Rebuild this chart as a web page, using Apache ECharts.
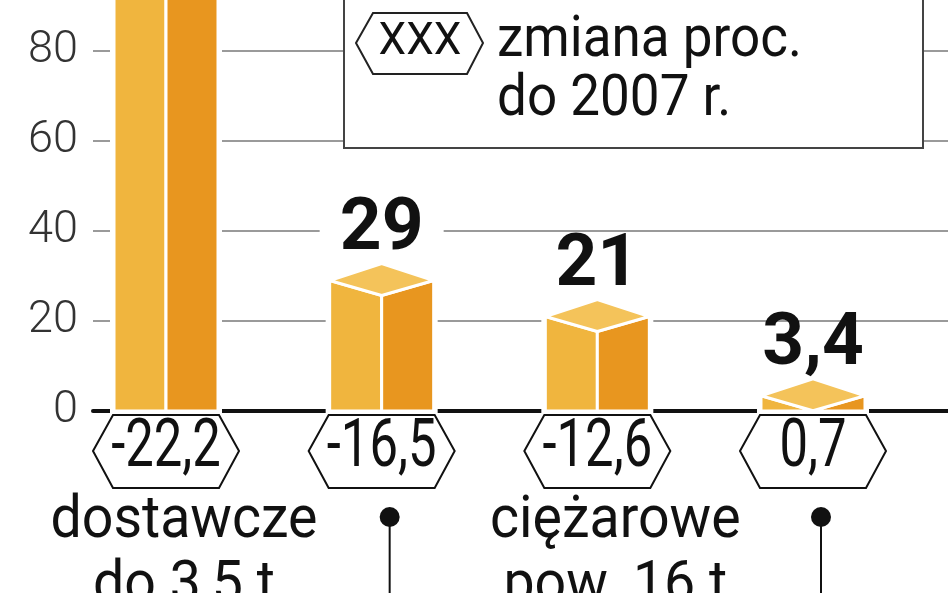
<!DOCTYPE html>
<html><head><meta charset="utf-8">
<script src="https://cdn.jsdelivr.net/npm/echarts@6/dist/echarts.min.js"></script>
<style>html,body{margin:0;padding:0;background:#fff}#c{width:948px;height:593px}</style>
</head><body><div id="c"></div>
<script>
// categories (labels of 2nd and 4th bar are below the visible crop; only their pins show)
const categories = ['dostawcze\ndo 3,5 t', null, 'ciężarowe\npow. 16 t', null];
// values (first bar is cut off at the top; its value is not visible)
const values = [120, 29, 21, 3.4];
// percentage change to 2007
const changes = [-22.2, -16.5, -12.6, 0.7];
const showValue = [false, true, true, true];
const yMin = 0, yMax = 100, yInterval = 20;
const legendText = 'zmiana proc.\ndo 2007 r.';
const legendSample = 'XXX';

const LEFT = '#F0B53E', RIGHT = '#E8961F', TOP = '#F4C35A';
const fmt = v => String(v).replace('.', ',');
const FONT = 'Roboto';

function renderBox(params, api) {
  const i = api.value(0), v = api.value(1);
  const b = api.coord([i, 0]), t = api.coord([i, v]);
  const c = b[0], y0 = b[1], y1 = t[1];
  const w = 52, d = 15, u = 17;
  const yf = Math.min(y1 + d, y0);
  const children = [
    {type:'polygon', shape:{points:[[c-w,y0],[c-w,y1],[c,y1-u],[c+w,y1],[c+w,y0]]}, style:{fill:'#fff', stroke:'#fff', lineWidth:8}},
    {type:'polygon', shape:{points:[[c-w,y0],[c-w,y1],[c,yf],[c,y0]]}, style:{fill:LEFT, stroke:'#fff', lineWidth:3}},
    {type:'polygon', shape:{points:[[c,y0],[c,yf],[c+w,y1],[c+w,y0]]}, style:{fill:RIGHT, stroke:'#fff', lineWidth:3}},
    {type:'polygon', shape:{points:[[c-w,y1],[c,y1-u],[c+w,y1],[c,y1+d]]}, style:{fill:TOP, stroke:'#fff', lineWidth:3}}
  ];
  if (showValue[i]) {
    const ty = y1 - u - 8 - 25;
    if (i === 1) children.push({type:'rect', shape:{x:c-62, y:ty-30, width:124, height:58}, style:{fill:'#fff'}});
    children.push({type:'text', x:c, y:ty, style:{text:fmt(v), fontSize:73, fontWeight:'bold', fontFamily:FONT, fill:'#111', align:'center', verticalAlign:'middle'}});
  }
  return {type:'group', children};
}

function renderHex(params, api) {
  const i = api.value(0), ch = api.value(1);
  const b = api.coord([i, 0]);
  const c = b[0], y0 = b[1];
  const w = 53;
  const children = [
    {type:'polygon', shape:{points:[[c-w,y0+4],[c+w,y0+4],[c+w+20,y0+40],[c+w,y0+77],[c-w,y0+77],[c-w-20,y0+40]]}, style:{fill:'#fff', stroke:'#111', lineWidth:2}},
    {type:'text', x:c, y:y0+38, scaleX:0.77, style:{text:fmt(ch), fontSize:66, fontWeight:400, fontFamily:FONT, fill:'#111', align:'center', verticalAlign:'middle'}}
  ];
  const name = categories[i];
  if (name) {
    children.push({type:'text', x:c+18, y:y0+144, scaleX:0.94, style:{text:name, fontSize:59, fontFamily:FONT, lineHeight:65, fill:'#111', align:'center', verticalAlign:'middle'}});
  } else {
    const px = c + 8;
    children.push({type:'line', shape:{x1:px, y1:y0+106, x2:px, y2:y0+200}, style:{stroke:'#111', lineWidth:2}});
    children.push({type:'circle', shape:{cx:px, cy:y0+106, r:10}, style:{fill:'#111'}});
  }
  return {type:'group', children};
}

const boxData = values.map((v, i) => [i, v]);
const hexData = changes.map((v, i) => [i, v]);

const chart = echarts.init(document.getElementById('c'), null, {renderer:'canvas'});
chart.setOption({
  animation:false,
  backgroundColor:'#fff',
  grid:{left:93, right:0, top:411 - 4.5*yMax, bottom:182, containLabel:false, outerBoundsMode:'none'},
  xAxis:{type:'value', min:-0.3385, max:3.626, axisLabel:{show:false}, axisTick:{show:false}, splitLine:{show:false},
    axisLine:{show:true, onZero:false, lineStyle:{color:'#111', width:4}}},
  yAxis:{type:'value', min:yMin, max:yMax, interval:yInterval,
    axisLine:{show:true, lineStyle:{color:'#666', width:2}}, axisTick:{show:false},
    axisLabel:{margin:15, color:'#333', fontFamily:FONT, fontWeight:300, fontSize:45},
    splitLine:{show:true, lineStyle:{color:'#9a9a9a', width:2}}},
  series:[
    {type:'custom', data:boxData, renderItem:renderBox, clip:false, z:3},
    {type:'custom', data:hexData, renderItem:renderHex, clip:false, z:4}
  ],
  graphic:[
    {type:'rect', z:10, shape:{x:344, y:-5, width:579, height:153}, style:{fill:'#fff', stroke:'#444', lineWidth:2}},
    {type:'polygon', z:11, shape:{points:[[356,43],[373,13],[467,13],[483,43],[467,74],[373,74]]}, style:{fill:'#fff', stroke:'#222', lineWidth:2}},
    {type:'text', z:11, x:420, y:43, style:{text:legendSample, fontSize:44, fontWeight:400, fontFamily:FONT, fill:'#111', align:'center', verticalAlign:'middle'}},
    {type:'text', z:11, x:497, y:12, scaleX:0.93, style:{text:legendText, fontSize:57, fontFamily:FONT, lineHeight:59, fill:'#111', align:'left', verticalAlign:'top'}}
  ]
});
</script></body></html>
